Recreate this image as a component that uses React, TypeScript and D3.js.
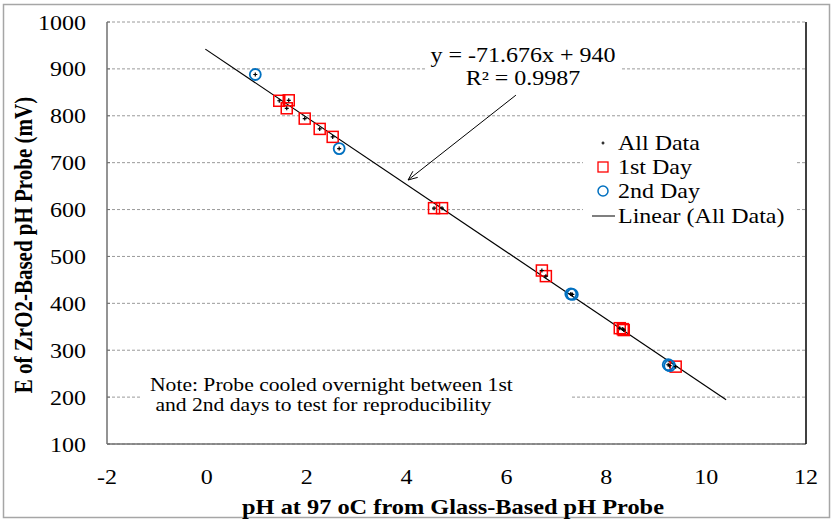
import * as d3 from "d3";

// pH (glass probe) vs E (mV)
const day1X = [1.45, 1.64, 1.6, 1.96, 2.26, 2.52, 4.55, 4.71, 6.71, 6.79, 8.27, 8.33, 8.35, 9.39];
const day1Y = [832, 833, 816, 794, 772, 755, 603, 603, 470, 458, 347, 345, 343, 265];
const day2X = [0.97, 2.65, 7.29, 7.32, 9.24, 9.27];
const day2Y = [888, 730, 420, 419, 269, 267];

const slope = -71.676;
const intercept = 940;
const fitRange = [-0.03, 10.4];

const xTicks = [-2, 0, 2, 4, 6, 8, 10, 12];
const yTicks = [100, 200, 300, 400, 500, 600, 700, 800, 900, 1000];

const legendItems = ["All Data", "1st Day", "2nd Day", "Linear (All Data)"];
const noteLines = ["Note: Probe cooled overnight between 1st", " and 2nd days to test for reproducibility"];

const W = 832;
const H = 519;
const FONT = "'Liberation Serif', 'Times New Roman', serif";
const SX = 1.2;

function T({ x, y, size, anchor = "start", bold = false, sx = SX, children }: any) {
  return (
    <text
      transform={`translate(${x},${y}) scale(${sx},1)`}
      fontSize={size}
      fontFamily={FONT}
      fontWeight={bold ? "bold" : "normal"}
      textAnchor={anchor}
      fill="#000"
      style={{ whiteSpace: "pre" }}
    >
      {children}
    </text>
  );
}

export default function App() {
  const left = 107, right = 806, top = 22, bottom = 444;
  const x = d3.scaleLinear().domain([-2, 12]).range([left, right]);
  const y = d3.scaleLinear().domain([100, 1000]).range([bottom, top]);

  const allX = day1X.concat(day2X);
  const allY = day1Y.concat(day2Y);

  const fit = d3
    .line<number>()
    .x((d) => x(d))
    .y((d) => y(slope * d + intercept));

  // arrow from equation to fit line (data coords)
  const tail = [6.19, 844];
  const tip = [4.03, 663];
  const tx = x(tip[0]), ty = y(tip[1]);
  const ang = Math.atan2(y(tail[1]) - ty, x(tail[0]) - tx);
  const head = 10;
  const a1 = ang + 0.4, a2 = ang - 0.4;

  const legX = 603;
  const legY = [143, 167, 191, 216];

  return (
    <svg width={W} height={H} style={{ position: "absolute", left: 0, top: 0, background: "#fff" }}>
      <rect x={3.5} y={4.5} width={826} height={513} fill="#fff" stroke="#a6a6a6" strokeWidth={1.5} />

      {/* gridlines */}
      {yTicks.map((t) => (
        <line key={t} x1={left} x2={right} y1={y(t)} y2={y(t)} stroke="#9a9a9a" strokeDasharray="3,2" strokeWidth={1} />
      ))}

      {/* text boxes cover the gridlines */}
      <rect x={425} y={40} width={196} height={52} fill="#fff" />
      <rect x={583} y={128} width={212} height={106} fill="#fff" />
      <rect x={140} y={368} width={431} height={56} fill="#fff" />

      {/* axes */}
      <line x1={left} x2={left} y1={top} y2={bottom} stroke="#707070" strokeWidth={1.5} />
      <line x1={left} x2={right} y1={bottom} y2={bottom} stroke="#707070" strokeWidth={1.5} />
      <line x1={right} x2={right} y1={top} y2={bottom} stroke="#000" strokeWidth={1.5} />
      {yTicks.map((t) => (
        <line key={t} x1={left} x2={left + 3} y1={y(t)} y2={y(t)} stroke="#707070" />
      ))}

      {yTicks.map((t) => (
        <T key={t} x={86} y={y(t) + 7.5} size={20} anchor="end">{t}</T>
      ))}
      {xTicks.map((t) => (
        <T key={t} x={x(t)} y={484} size={20} anchor="middle">{t}</T>
      ))}

      {/* fit line */}
      <path d={fit(fitRange) || ""} fill="none" stroke="#000" strokeWidth={1.2} />

      {/* 1st day */}
      {day1X.map((d, i) => (
        <rect key={i} x={x(d) - 5.5} y={y(day1Y[i]) - 5.5} width={11} height={11} fill="none" stroke="#ff0000" strokeWidth={1.5} />
      ))}
      {/* 2nd day */}
      {day2X.map((d, i) => (
        <circle key={i} cx={x(d)} cy={y(day2Y[i])} r={5.5} fill="none" stroke="#0070c0" strokeWidth={1.8} />
      ))}
      {/* all data */}
      {allX.map((d, i) => (
        <path key={i} d={`M${x(d) - 2},${y(allY[i])}h4M${x(d)},${y(allY[i]) - 2}v4`} stroke="#000" strokeWidth={1.2} />
      ))}

      {/* equation + arrow */}
      <T x={523} y={62} size={20} anchor="middle">y = -71.676x + 940</T>
      <T x={523} y={85} size={20} anchor="middle">R² = 0.9987</T>
      <line x1={x(tail[0])} y1={y(tail[1])} x2={tx} y2={ty} stroke="#000" strokeWidth={1} />
      <path
        d={`M${tx + head * Math.cos(a1)},${ty + head * Math.sin(a1)}L${tx},${ty}L${tx + head * Math.cos(a2)},${ty + head * Math.sin(a2)}`}
        fill="none"
        stroke="#000"
        strokeWidth={1}
      />

      {/* legend */}
      <path d={`M${legX - 1.5},${legY[0]}h3M${legX},${legY[0] - 1.5}v3`} stroke="#000" strokeWidth={1.2} />
      <rect x={legX - 5} y={legY[1] - 5} width={10} height={10} fill="none" stroke="#ff0000" strokeWidth={1.3} />
      <circle cx={legX} cy={legY[2]} r={5} fill="none" stroke="#0070c0" strokeWidth={1.5} />
      <line x1={legX - 11} x2={legX + 12} y1={legY[3]} y2={legY[3]} stroke="#555" strokeWidth={1.5} />
      {legendItems.map((s, i) => (
        <T key={s} x={618} y={legY[i] + 7} size={20}>{s}</T>
      ))}

      {/* note */}
      {noteLines.map((s, i) => (
        <T key={i} x={150} y={391 + i * 20} size={18}>{s}</T>
      ))}

      {/* axis titles */}
      <T x={453} y={514} size={21} anchor="middle" bold sx={1.16}>pH at 97 oC from Glass-Based pH Probe</T>
      <text
        transform={`translate(32,245) scale(1.15,1) rotate(-90)`}
        fontSize={21}
        fontFamily={FONT}
        fontWeight="bold"
        textAnchor="middle"
      >
        E of ZrO2-Based pH Probe (mV)
      </text>
    </svg>
  );
}
